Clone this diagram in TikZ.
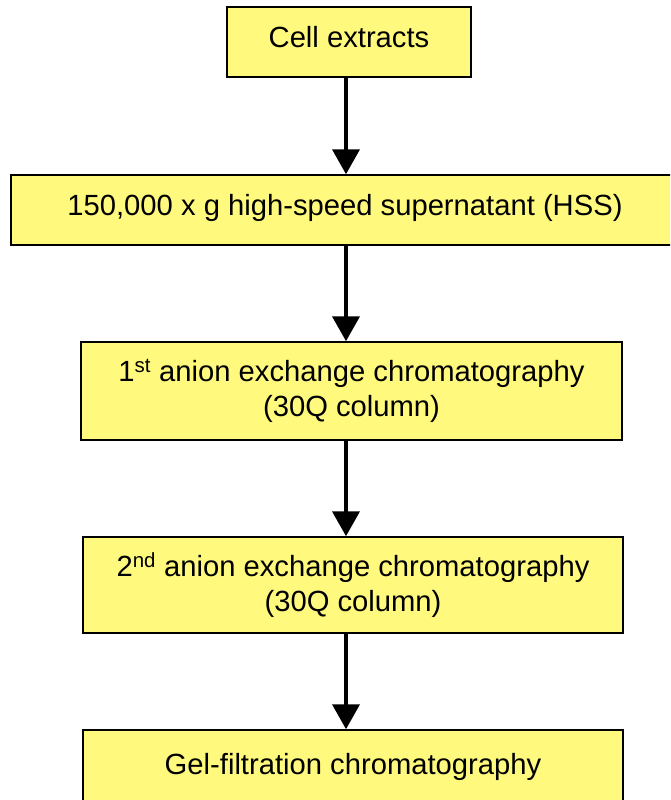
\documentclass[tikz,border=0pt]{standalone}
\usepackage{fontspec}
\setmainfont{Liberation Sans}
\usetikzlibrary{arrows.meta,calc,positioning}
\definecolor{boxyellow}{RGB}{255,250,125}

\begin{document}
\begin{tikzpicture}[x=1pt,y=1pt,
    stepbox/.style={draw=black, line width=1.5pt, fill=boxyellow, align=center,
      inner sep=0pt, font=\fontsize{29.2}{35}\selectfont},
    onerow/.style={stepbox, text height=21pt, text depth=10pt},
    flow/.style={line width=4pt, -{Triangle[length=25pt,width=27pt]}}]
	\clip (0,0) rectangle (670,-800);

	% purification steps
	\node[onerow, minimum width=244pt, minimum height=70pt] (cell) at (349,-42) {Cell extracts};
	\node[onerow, minimum width=668pt, minimum height=70pt] (hss) at (345,-210) {150,000 x g high-speed supernatant (HSS)};
	\node[stepbox, minimum width=541pt, minimum height=98pt] (anion1) at (351.5,-391)
		{1\textsuperscript{st} anion exchange chromatography\\(30Q column)};
	\node[stepbox, minimum width=540pt, minimum height=96pt] (anion2) at (353,-585)
		{2\textsuperscript{nd} anion exchange chromatography\\(30Q column)};
	\node[stepbox, text height=21pt, text depth=4pt, minimum width=540pt, minimum height=72pt] (gel) at (353,-766) {Gel-filtration chromatography};

	% arrows
	\coordinate (axis) at (346,0);
	\draw[flow] (axis |- cell.south) -- (axis |- hss.north);
	\draw[flow] (axis |- hss.south) -- (axis |- anion1.north);
	\draw[flow] (axis |- anion1.south) -- (axis |- anion2.north);
	\draw[flow] (axis |- anion2.south) -- (axis |- gel.north);
\end{tikzpicture}
\end{document}
